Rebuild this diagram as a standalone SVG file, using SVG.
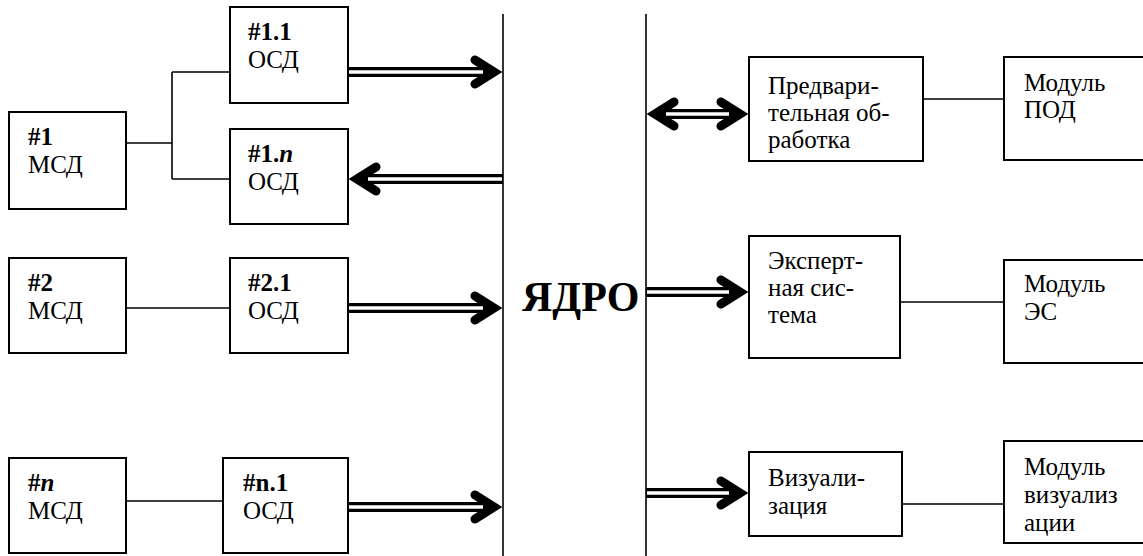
<svg xmlns="http://www.w3.org/2000/svg" width="1143" height="556" viewBox="0 0 1143 556">
<style>
.box{fill:#fff;stroke:#000;stroke-width:2}
.ln{stroke:#000;stroke-width:1.6;fill:none}
.sh{stroke:#000;stroke-width:10;fill:none}
.wh{stroke:#fff;stroke-width:3.5;fill:none}
.t{font-family:"Liberation Serif","Times New Roman",serif;font-size:25px;fill:#000}
.b{font-weight:bold}
.core{font-family:"Liberation Serif","Times New Roman",serif;font-size:42px;font-weight:bold;fill:#000}
</style>
<defs>
<marker id="ah" viewBox="-34 -22 44 44" markerWidth="44" markerHeight="44" refX="-12" refY="0" orient="auto-start-reverse" markerUnits="userSpaceOnUse">
<path d="M-28,-12 L-9,0 L-28,12" fill="none" stroke="#000" stroke-width="9" stroke-linejoin="miter" stroke-linecap="round"/>
</marker>
</defs>
<rect width="1143" height="556" fill="#fff"/>
<g id="connectors">
<path class="ln" d="M126,143 H172 M172,72 V179 M172,72 H230 M172,179 H230"/>
<path class="ln" d="M126,308 H230"/>
<path class="ln" d="M126,501 H223"/>
<path class="ln" d="M923,99 H1004"/>
<path class="ln" d="M900,302 H1004"/>
<path class="ln" d="M902,504 H1004"/>
<line class="sh" x1="348" y1="72" x2="491" y2="72" marker-end="url(#ah)"/>
<line class="wh" x1="349" y1="72" x2="483" y2="72"/>
<line class="sh" x1="503" y1="179" x2="360" y2="179" marker-end="url(#ah)"/>
<line class="wh" x1="502" y1="179" x2="368" y2="179"/>
<line class="sh" x1="348" y1="308" x2="491" y2="308" marker-end="url(#ah)"/>
<line class="wh" x1="349" y1="308" x2="483" y2="308"/>
<line class="sh" x1="348" y1="507" x2="491" y2="507" marker-end="url(#ah)"/>
<line class="wh" x1="349" y1="507" x2="483" y2="507"/>
<line class="sh" x1="658" y1="114" x2="737" y2="114" marker-start="url(#ah)" marker-end="url(#ah)"/>
<line class="wh" x1="666" y1="114" x2="729" y2="114"/>
<line class="sh" x1="646" y1="292" x2="737" y2="292" marker-end="url(#ah)"/>
<line class="wh" x1="647" y1="292" x2="729" y2="292"/>
<line class="sh" x1="646" y1="493" x2="737" y2="493" marker-end="url(#ah)"/>
<line class="wh" x1="647" y1="493" x2="729" y2="493"/>
</g>
<g id="core">
<line class="ln" x1="503" y1="14" x2="503" y2="556"/>
<line class="ln" x1="646" y1="14" x2="646" y2="556"/>
<text class="core" x="522" y="311">ЯДРО</text>
</g>
<g id="n1_1"><rect class="box" x="230" y="7" width="118" height="96"/>
<text class="t b" x="248" y="40">#1.1</text><text class="t" x="248" y="68">ОСД</text></g>
<g id="n1"><rect class="box" x="9" y="112" width="117" height="97"/>
<text class="t b" x="28" y="145">#1</text><text class="t" x="28" y="173">МСД</text></g>
<g id="n1_n"><rect class="box" x="230" y="129" width="118" height="95"/>
<text class="t b" x="248" y="162">#1.<tspan font-style="italic">n</tspan></text><text class="t" x="248" y="190">ОСД</text></g>
<g id="n2"><rect class="box" x="9" y="258" width="117" height="95"/>
<text class="t b" x="28" y="291">#2</text><text class="t" x="28" y="319">МСД</text></g>
<g id="n2_1"><rect class="box" x="230" y="258" width="118" height="95"/>
<text class="t b" x="248" y="291">#2.1</text><text class="t" x="248" y="319">ОСД</text></g>
<g id="nn"><rect class="box" x="9" y="458" width="117" height="95"/>
<text class="t b" x="28" y="491">#<tspan font-style="italic">n</tspan></text><text class="t" x="28" y="519">МСД</text></g>
<g id="nn_1"><rect class="box" x="223" y="458" width="125" height="95"/>
<text class="t b" x="243" y="491">#n.1</text><text class="t" x="243" y="519">ОСД</text></g>
<g id="pre"><rect class="box" x="749" y="57" width="174" height="104"/>
<text class="t" x="768" y="94">Предвари-</text><text class="t" x="768" y="121">тельная об-</text><text class="t" x="768" y="148">работка</text></g>
<g id="pod"><rect class="box" x="1004" y="57" width="142" height="103"/>
<text class="t" x="1024" y="91">Модуль</text><text class="t" x="1024" y="118">ПОД</text></g>
<g id="exp"><rect class="box" x="749" y="236" width="151" height="122"/>
<text class="t" x="768" y="269">Эксперт-</text><text class="t" x="768" y="296">ная сис-</text><text class="t" x="768" y="323">тема</text></g>
<g id="es"><rect class="box" x="1004" y="260" width="142" height="103"/>
<text class="t" x="1024" y="292">Модуль</text><text class="t" x="1024" y="320">ЭС</text></g>
<g id="vis"><rect class="box" x="749" y="452" width="153" height="84"/>
<text class="t" x="768" y="486">Визуали-</text><text class="t" x="768" y="514">зация</text></g>
<g id="mvis"><rect class="box" x="1004" y="441" width="142" height="102"/>
<text class="t" x="1024" y="475">Модуль</text><text class="t" x="1024" y="503">визуализ</text><text class="t" x="1024" y="531">ации</text></g>
</svg>
